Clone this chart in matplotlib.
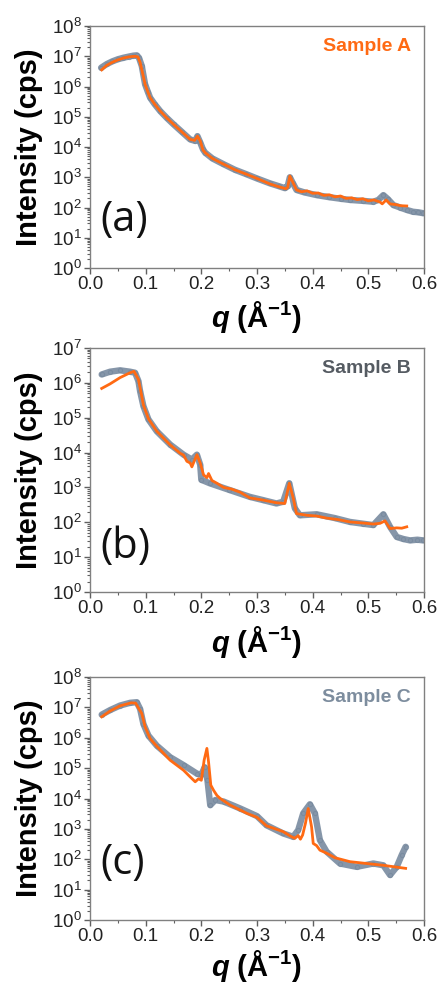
import numpy as np
import matplotlib
matplotlib.use('Agg')
import matplotlib.pyplot as plt
from matplotlib.ticker import LogLocator, MultipleLocator, NullFormatter

plt.rcParams['font.family'] = ['Liberation Sans', 'DejaVu Sans']
plt.rcParams['mathtext.fontset'] = 'custom'
plt.rcParams['mathtext.rm'] = 'Liberation Sans'
plt.rcParams['mathtext.it'] = 'Liberation Sans:bold:italic'
plt.rcParams['mathtext.bf'] = 'Liberation Sans:bold'

GRAY = '#71849a'
ORANGE = '#ff6a13'

# ---- sample A (log10 intensity)
a_q_data = [0.020, 0.030, 0.040, 0.050, 0.060, 0.070, 0.078, 0.084, 0.088, 0.093,
            0.099, 0.104, 0.108, 0.116, 0.126, 0.138, 0.150, 0.165, 0.180, 0.189,
            0.193, 0.198, 0.203, 0.207, 0.220, 0.239, 0.260, 0.281, 0.300, 0.323,
            0.340, 0.350, 0.355, 0.359, 0.364, 0.371, 0.385, 0.407, 0.430, 0.450,
            0.467, 0.490, 0.509, 0.518, 0.527, 0.535, 0.545, 0.557, 0.569, 0.580,
            0.590, 0.599]
a_log_data = [6.62, 6.74, 6.83, 6.90, 6.95, 6.99, 7.02, 7.03, 6.95, 6.68,
              6.07, 5.82, 5.63, 5.42, 5.19, 4.96, 4.75, 4.50, 4.25, 4.20,
              4.36, 4.15, 3.92, 3.81, 3.62, 3.44, 3.25, 3.10, 2.96, 2.80,
              2.70, 2.64, 2.70, 3.00, 2.82, 2.58, 2.50, 2.41, 2.34, 2.29,
              2.25, 2.22, 2.19, 2.25, 2.41, 2.28, 2.08, 2.00, 1.92, 1.86,
              1.84, 1.81]
a_q_fit = [0.021, 0.030, 0.040, 0.050, 0.060, 0.070, 0.081, 0.086, 0.090, 0.095,
           0.099, 0.104, 0.108, 0.116, 0.126, 0.138, 0.150, 0.165, 0.180, 0.188,
           0.193, 0.198, 0.203, 0.207, 0.220, 0.239, 0.260, 0.281, 0.300, 0.323,
           0.340, 0.352, 0.355, 0.359, 0.364, 0.371, 0.380, 0.390, 0.400, 0.410,
           0.420, 0.430, 0.440, 0.450, 0.460, 0.470, 0.480, 0.490, 0.500, 0.510,
           0.521, 0.525, 0.532, 0.539, 0.548, 0.558, 0.569]
a_log_fit = [6.55, 6.70, 6.80, 6.88, 6.94, 6.98, 7.00, 6.98, 6.80, 6.40,
             6.07, 5.82, 5.63, 5.42, 5.19, 4.96, 4.75, 4.50, 4.25, 4.22,
             4.36, 4.20, 3.90, 3.81, 3.62, 3.44, 3.25, 3.10, 2.96, 2.78,
             2.68, 2.62, 2.66, 3.04, 2.85, 2.58, 2.52, 2.55, 2.47, 2.48,
             2.40, 2.42, 2.35, 2.38, 2.30, 2.32, 2.26, 2.29, 2.22, 2.25,
             2.18, 2.12, 2.25, 2.12, 2.10, 2.06, 2.05]

# ---- sample B
b_q_data = [0.021, 0.036, 0.054, 0.072, 0.081, 0.087, 0.090, 0.096, 0.105, 0.120,
            0.144, 0.168, 0.183, 0.192, 0.198, 0.200, 0.215, 0.250, 0.287, 0.310,
            0.335, 0.347, 0.358, 0.368, 0.377, 0.407, 0.440, 0.467, 0.490, 0.509,
            0.527, 0.539, 0.551, 0.563, 0.575, 0.588, 0.599]
b_log_data = [6.24, 6.32, 6.36, 6.32, 6.29, 6.05, 5.76, 5.33, 4.95, 4.61,
              4.23, 3.94, 3.80, 3.94, 3.65, 3.22, 3.12, 2.93, 2.73, 2.64,
              2.54, 2.59, 3.12, 2.40, 2.20, 2.23, 2.12, 2.01, 1.96, 1.92,
              2.23, 1.87, 1.58, 1.52, 1.48, 1.50, 1.48]
b_q_fit = [0.021, 0.036, 0.054, 0.072, 0.079, 0.087, 0.090, 0.096, 0.105, 0.120,
           0.144, 0.162, 0.168, 0.174, 0.180, 0.183, 0.192, 0.198, 0.204, 0.210,
           0.213, 0.219, 0.228, 0.240, 0.255, 0.270, 0.287, 0.310, 0.335, 0.350,
           0.358, 0.365, 0.371, 0.390, 0.407, 0.425, 0.445, 0.467, 0.490, 0.509,
           0.521, 0.530, 0.539, 0.551, 0.560, 0.569]
b_log_fit = [5.84, 5.97, 6.15, 6.29, 6.33, 6.10, 5.86, 5.36, 4.97, 4.61,
             4.22, 3.98, 3.93, 3.75, 3.70, 3.59, 3.94, 3.70, 3.36, 3.28,
             3.40, 3.20, 3.12, 3.00, 2.95, 2.86, 2.70, 2.64, 2.56, 2.54,
             3.12, 2.70, 2.25, 2.20, 2.18, 2.12, 2.08, 2.01, 1.98, 1.95,
             1.97, 2.04, 1.82, 1.84, 1.83, 1.87]

# ---- sample C
c_q_data = [0.021, 0.036, 0.054, 0.072, 0.084, 0.090, 0.096, 0.105, 0.120, 0.144,
            0.168, 0.192, 0.200, 0.206, 0.211, 0.216, 0.225, 0.240, 0.270, 0.300,
            0.317, 0.347, 0.365, 0.374, 0.383, 0.395, 0.404, 0.413, 0.425, 0.449,
            0.479, 0.509, 0.527, 0.539, 0.551, 0.560, 0.567]
c_log_data = [6.76, 6.91, 7.06, 7.15, 7.17, 6.95, 6.45, 6.07, 5.74, 5.36,
              5.10, 4.82, 4.78, 5.03, 4.60, 3.78, 3.95, 3.90, 3.67, 3.42,
              3.12, 2.85, 2.74, 2.96, 3.51, 3.81, 3.51, 2.63, 2.25, 1.86,
              1.75, 1.86, 1.80, 1.48, 1.75, 2.14, 2.41]
c_q_fit = [0.021, 0.036, 0.054, 0.074, 0.082, 0.087, 0.093, 0.099, 0.108, 0.120,
           0.144, 0.168, 0.180, 0.189, 0.195, 0.200, 0.205, 0.210, 0.213, 0.217,
           0.222, 0.228, 0.234, 0.252, 0.282, 0.300, 0.317, 0.347, 0.362, 0.368,
           0.374, 0.378, 0.382, 0.387, 0.392, 0.398, 0.401, 0.407, 0.413, 0.425,
           0.440, 0.467, 0.497, 0.527, 0.567]
c_log_fit = [6.69, 6.88, 7.05, 7.15, 7.14, 6.98, 6.80, 6.36, 5.97, 5.72,
             5.26, 4.93, 4.71, 4.55, 4.65, 4.60, 5.26, 5.65, 5.20, 4.44,
             4.27, 4.10, 4.00, 3.78, 3.51, 3.38, 3.10, 2.91, 2.74, 2.69,
             2.78, 2.66, 2.80, 3.18, 3.67, 3.07, 2.52, 2.45, 2.30, 2.20,
             2.05, 1.92, 1.86, 1.80, 1.70]

panels = [
    ('(a)', 'Sample A', ORANGE, 8, a_q_data, a_log_data, a_q_fit, a_log_fit,
     [90, 26, 424, 268], 0.198, -0.13),
    ('(b)', 'Sample B', '#555b62', 7, b_q_data, b_log_data, b_q_fit, b_log_fit,
     [90, 348, 424, 592], 0.185, -0.13),
    ('(c)', 'Sample C', '#7d8d9e', 8, c_q_data, c_log_data, c_q_fit, c_log_fit,
     [90, 677, 424, 920], 0.235, -0.115),
]

W, H = 440, 984
fig = plt.figure(figsize=(W / 100, H / 100), dpi=100)

for tag, name, ncol, ytop, qd, ld, qf, lf, box, tag_y, xl_y in panels:
    x0, y0, x1, y1 = box
    ax = fig.add_axes([x0 / W, 1 - y1 / H, (x1 - x0) / W, (y1 - y0) / H])
    yd = 10 ** np.array(ld)
    yf = 10 ** np.array(lf)
    # measured data: dense open circles that merge into a band
    ax.plot(qd, yd, '-', color=GRAY, lw=4.6, alpha=0.85, solid_capstyle='round',
            solid_joinstyle='round', zorder=2)
    ax.plot(qd, yd, 'o', mfc='none', mec=GRAY, ms=3, mew=0.8, alpha=0.6, zorder=2)
    # fit
    ax.plot(qf, yf, '-', color=ORANGE, lw=2.0, zorder=3)
    ax.set_yscale('log')
    ax.set_xlim(0, 0.6)
    ax.set_ylim(1, 10 ** ytop)
    ax.yaxis.set_major_locator(LogLocator(base=10, numticks=20))
    ax.yaxis.set_minor_locator(LogLocator(base=10, subs=np.arange(2, 10), numticks=20))
    ax.yaxis.set_minor_formatter(NullFormatter())
    ax.xaxis.set_major_locator(MultipleLocator(0.1))
    ax.xaxis.set_minor_locator(MultipleLocator(0.05))
    ax.xaxis.set_major_formatter(plt.FuncFormatter(lambda v, p: '%.1f' % v))
    for s in ax.spines.values():
        s.set_color('#808080')
        s.set_linewidth(1.0)
    ax.tick_params(which='both', direction='out', color='#606060', labelcolor='#222222',
                   labelsize=13.5, top=False, right=False)
    ax.tick_params(which='major', length=4, width=1.0, pad=2)
    ax.tick_params(which='minor', length=2.5, width=0.8)
    ax.set_ylabel('Intensity (cps)', fontsize=21, fontweight='bold')
    ax.yaxis.set_label_coords(-0.14, 0.5)
    ax.set_xlabel(r'$q$ (Å$^{\mathbf{-1}}$)', fontsize=21, fontweight='bold')
    ax.xaxis.set_label_coords(0.5, xl_y)
    ax.text(0.03, tag_y, tag, transform=ax.transAxes, fontsize=30,
            family=['Open Sans', 'DejaVu Sans'], ha='left', va='center', color='#111111')
    ax.text(0.96, 0.915, name, transform=ax.transAxes, fontsize=14,
            fontweight='bold', color=ncol, ha='right', va='center')

fig.savefig('out.png', dpi=100)
